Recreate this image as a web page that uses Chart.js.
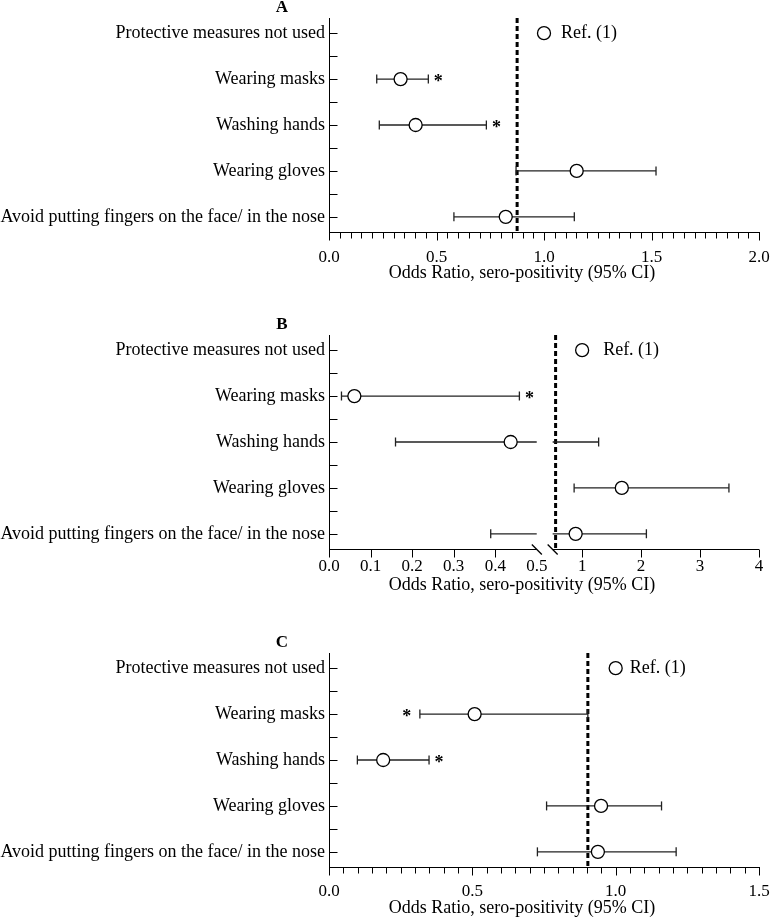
<!DOCTYPE html>
<html>
<head>
<meta charset="utf-8">
<script src="https://cdn.jsdelivr.net/npm/chart.js@4.4.0/dist/chart.umd.min.js"></script>
<style>
html, body { margin: 0; padding: 0; background: #fff; }
#wrap { position: relative; width: 772px; height: 922px; overflow: hidden; }
.panel { position: absolute; left: 0; width: 772px; }
</style>
</head>
<body>
<div id="wrap">
  <div class="panel" style="top:0"><canvas id="cA" width="772" height="287"></canvas></div>
  <div class="panel" style="top:310px"><canvas id="cB" width="772" height="294"></canvas></div>
  <div class="panel" style="top:622px"><canvas id="cC" width="772" height="300"></canvas></div>
</div>
<script>
// ---- data ----
const categories = ['Protective measures not used', 'Wearing masks', 'Washing hands', 'Wearing gloves', 'Avoid putting fingers on the face/ in the nose'];
const axisTitle = 'Odds Ratio, sero-positivity (95% CI)';
const refLabel = 'Ref. (1)';

// A
const orA = [1, 0.333, 0.403, 1.152, 0.822];
const loA = [null, 0.222, 0.234, 0.870, 0.581];
const hiA = [null, 0.462, 0.732, 1.521, 1.141];
const sigA = ['', 'right', 'right', '', ''];
const refLineA = 0.875;
const ticksA = [0, 0.5, 1, 1.5, 2];

// B (broken axis at 0.5)
const orB = [1, 0.061, 0.437, 1.673, 0.89];
const loB = [null, 0.030, 0.160, 0.864, 0.389];
const hiB = [null, 0.458, 1.28, 3.49, 2.09];
const sigB = ['', 'right', '', '', ''];
const refLineB = 0.55;
const breakB = 0.5;
const ticksBLow = [0, 0.1, 0.2, 0.3, 0.4, 0.5];
const ticksBHigh = [1, 2, 3, 4];

// C
const orC = [1, 0.508, 0.189, 0.949, 0.938];
const loC = [null, 0.317, 0.099, 0.759, 0.727];
const hiC = [null, 0.903, 0.349, 1.160, 1.211];
const sigC = ['', 'left', 'right', '', ''];
const refLineC = 0.903;
const ticksC = [0, 0.5, 1, 1.5];

const yMin = -0.33, yMax = 4.33;
const serif = "'Liberation Serif', 'Times New Roman', serif";
const INK = '#000';
const BAR = '#222';

function line(ctx, x1, y1, x2, y2) {
  ctx.beginPath(); ctx.moveTo(x1, y1); ctx.lineTo(x2, y2); ctx.stroke();
}

function axisOf(axes, v) {
  return axes.find(a => v >= a.domain[0] && v <= a.domain[1]) || axes[axes.length - 1];
}

function buildDatasets(spec) {
  const ds = [];
  // circles, split per axis
  spec.axes.forEach(a => {
    const pts = [];
    spec.or.forEach((v, i) => { if (axisOf(spec.axes, v) === a) pts.push({x: v, y: i}); });
    if (pts.length) ds.push({
      data: pts, xAxisID: a.id, order: 0,
      pointStyle: 'circle', pointRadius: 6.5, pointBorderWidth: 1.3,
      pointBackgroundColor: '#fff', pointBorderColor: INK, showLine: false
    });
  });
  // CI bars, split at the break if needed
  spec.or.forEach((v, i) => {
    const lo = spec.lo[i], hi = spec.hi[i];
    if (lo == null || hi == null) return;
    spec.axes.forEach(a => {
      const s0 = Math.max(lo, a.domain[0]), s1 = Math.min(hi, a.domain[1]);
      if (s1 <= s0) return;
      ds.push({
        data: [{x: s0, y: i}, {x: s1, y: i}], xAxisID: a.id, order: 1,
        showLine: true, borderColor: BAR, borderWidth: 1.3,
        pointStyle: 'line', rotation: 90,
        pointRadius: [s0 === lo ? 4.5 : 0, s1 === hi ? 4.5 : 0],
        pointBorderWidth: 1.3, pointBorderColor: BAR
      });
    });
  });
  // vertical dashed reference line
  const ra = axisOf(spec.axes, spec.refLine);
  ds.push({
    data: [{x: spec.refLine, y: yMin}, {x: spec.refLine, y: yMax}], xAxisID: ra.id, order: 2,
    showLine: true, borderColor: INK, borderWidth: 3, borderDash: [5, 3], pointRadius: 0
  });
  return ds;
}

function decor(spec) {
  return {
    id: 'decor' + spec.letter,
    afterDraw(chart) {
      const ctx = chart.ctx, ca = chart.chartArea, ys = chart.scales.y;
      const by = Math.round(ca.bottom) + 0.5;
      const lx = Math.round(ca.left) + 0.5;
      ctx.save();
      ctx.strokeStyle = INK; ctx.fillStyle = INK; ctx.lineWidth = 1;
      // inward y ticks
      for (let v = 0; v <= 4; v += 0.5) {
        const py = Math.round(ys.getPixelForValue(v)) + 0.5;
        line(ctx, lx, py, lx + 8, py);
      }
      // x ticks
      spec.axes.forEach(a => {
        const s = chart.scales[a.id];
        a.marks.forEach(v => {
          const px = Math.round(s.getPixelForValue(v)) + 0.5;
          line(ctx, px, by, px, by + 8);
        });
        if (a.minorStep) {
          for (let k = 1; k * a.minorStep < a.max - 1e-9; k++) {
            const v = k * a.minorStep;
            if (a.marks.some(m => Math.abs(m - v) < 1e-9)) continue;
            const px = Math.round(s.getPixelForValue(v)) + 0.5;
            line(ctx, px, by, px, by + 6);
          }
        }
        if (a.ownLine) {
          line(ctx, s.getPixelForValue(a.domain[0]), by, s.getPixelForValue(a.domain[1]), by);
        }
      });
      // axis break marks
      if (spec.breakAt != null) {
        ctx.lineWidth = 1.3;
        spec.axes.forEach(a => {
          const px = chart.scales[a.id].getPixelForValue(spec.breakAt);
          line(ctx, px - 5, by - 5, px + 5, by + 5);
        });
        ctx.lineWidth = 1;
      }
      // reference label
      const ra = axisOf(spec.axes, spec.or[0]);
      ctx.font = '18px ' + serif;
      ctx.textAlign = 'left'; ctx.textBaseline = 'middle';
      ctx.fillText(refLabel, chart.scales[ra.id].getPixelForValue(spec.or[0]) + spec.refDx, ys.getPixelForValue(0));
      // significance asterisks
      ctx.font = 'bold 18px ' + serif;
      ctx.textAlign = 'center';
      spec.sig.forEach((side, i) => {
        if (!side) return;
        const v = side === 'right' ? spec.hi[i] : spec.lo[i];
        const s = chart.scales[axisOf(spec.axes, v).id];
        const px = s.getPixelForValue(v) + (side === 'right' ? 10 : -13);
        ctx.fillText('*', px, ys.getPixelForValue(i) + 3);
      });
      // panel letter
      ctx.font = 'bold 17px ' + serif;
      ctx.fillText(spec.letter, 282, ca.top - 10);
      // x axis title
      ctx.font = '18px ' + serif;
      ctx.textBaseline = 'alphabetic';
      ctx.fillText(axisTitle, 522, ca.bottom + spec.titleDy);
      ctx.restore();
    }
  };
}

function makeChart(canvasId, spec) {
  const scales = {
    y: {
      type: 'linear', reverse: true, min: yMin, max: yMax,
      afterBuildTicks: s => { s.ticks = categories.map((c, i) => ({value: i})); },
      ticks: { callback: v => categories[v], font: {family: serif, size: 18}, color: INK, padding: 4, autoSkip: false },
      grid: { display: false, drawTicks: false },
      border: { display: true, color: INK, width: 1 },
      afterFit: s => { s.width = 329; s.paddingTop = 0; s.paddingBottom = 0; }
    }
  };
  spec.axes.forEach(a => {
    scales[a.id] = {
      type: 'linear', position: 'bottom', min: a.min, max: a.max,
      stack: spec.axes.length > 1 ? 'xs' : undefined,
      stackWeight: a.weight || 1,
      afterBuildTicks: s => { s.ticks = a.labels.map(v => ({value: v})); },
      ticks: { callback: a.fmt, font: {family: serif, size: 17}, color: INK, padding: spec.labelPad, autoSkip: false, maxRotation: 0 },
      grid: { display: false, drawTicks: false },
      border: { display: !a.ownLine, color: INK, width: 1 },
      afterFit: s => { s.height = 55; s.paddingLeft = 0; s.paddingRight = 0; }
    };
  });
  return new Chart(document.getElementById(canvasId), {
    type: 'scatter',
    data: { datasets: buildDatasets(spec) },
    options: {
      responsive: false, animation: false, events: [],
      layout: { padding: { top: spec.padTop, right: 13, left: 0, bottom: 0 } },
      scales,
      plugins: { legend: { display: false }, tooltip: { enabled: false } }
    },
    plugins: [decor(spec)]
  });
}

const fmt1 = v => Number(v).toFixed(1);

makeChart('cA', {
  letter: 'A', or: orA, lo: loA, hi: hiA, sig: sigA, refLine: refLineA,
  padTop: 18, labelPad: 15, titleDy: 46, refDx: 17,
  axes: [{ id: 'x', min: 0, max: 2, domain: [0, 2], labels: ticksA, marks: ticksA, minorStep: 0.05, fmt: fmt1 }]
});

makeChart('cB', {
  letter: 'B', or: orB, lo: loB, hi: hiB, sig: sigB, refLine: refLineB, breakAt: breakB,
  padTop: 25, labelPad: 7, titleDy: 41, refDx: 21,
  axes: [
    { id: 'xl', min: 0, max: breakB, domain: [0, breakB], weight: 208, labels: ticksBLow,
      marks: ticksBLow.filter(v => v < breakB), fmt: fmt1, ownLine: true },
    { id: 'xr', min: 0.232, max: 4, domain: [breakB, 4], weight: 222.3, labels: ticksBHigh,
      marks: ticksBHigh, fmt: v => String(v), ownLine: true }
  ]
});

makeChart('cC', {
  letter: 'C', or: orC, lo: loC, hi: hiC, sig: sigC, refLine: refLineC,
  padTop: 31, labelPad: 14.5, titleDy: 46, refDx: 14,
  axes: [{ id: 'x', min: 0, max: 1.5, domain: [0, 1.5], labels: ticksC, marks: ticksC, minorStep: 0.05, fmt: fmt1 }]
});
</script>
</body>
</html>
